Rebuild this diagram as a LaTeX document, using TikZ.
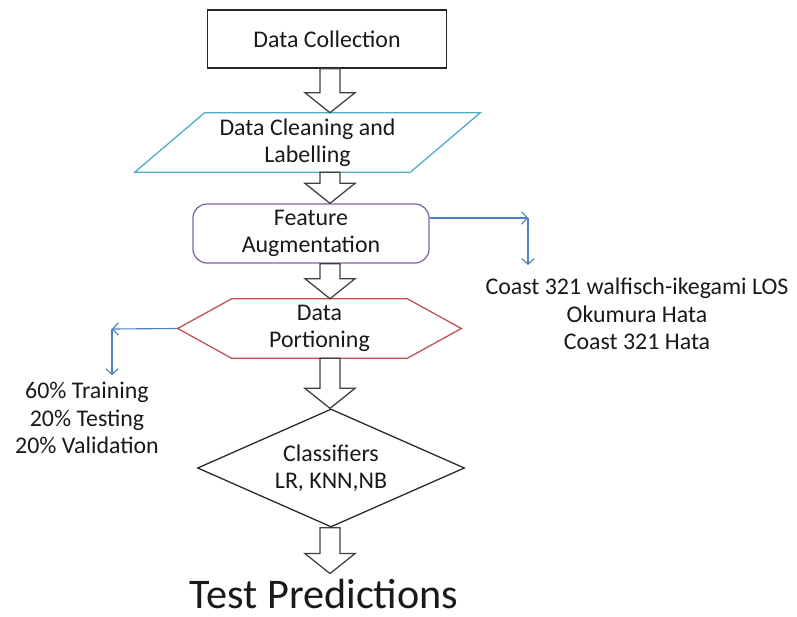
\documentclass[tikz,border=0pt]{standalone}
\usepackage{fontspec}
\setmainfont{Carlito}
\usetikzlibrary{shapes.geometric,calc,arrows.meta}

\definecolor{sideblue}{RGB}{79,129,189}
\definecolor{cleancyan}{RGB}{75,172,198}
\definecolor{featpurple}{RGB}{128,100,162}
\definecolor{portred}{RGB}{192,80,77}

\tikzset{
  every node/.style={font=\fontsize{17}{19.5}\selectfont, text=black!90, align=center},
  blockarr/.style={draw=black!75, fill=white, line width=0.9pt},
  sidearr/.style={draw=sideblue, line width=0.8pt, -{Straight Barb[length=4pt,width=9pt]}},
  txtbox/.style={inner sep=0pt, minimum height=1.475cm}
}

% block arrow from the bottom of #1 to the top of #2, along x of (axis)
\newcommand{\bigarrow}[2]{%
  \path (#1.south -| axis) coordinate (s) (#2.north -| axis) coordinate (t);
  \draw[blockarr] ($(s)+(-10,0)$) -- ($(t)+(-10,20)$) -- ($(t)+(-25,20)$) -- (t)
    -- ($(t)+(25,20)$) -- ($(t)+(10,20)$) -- ($(s)+(10,0)$) -- cycle;
}

\begin{document}
\begin{tikzpicture}[x=0.025cm,y=0.025cm]
  \useasboundingbox (0,0) rectangle (797,-617);
  \coordinate (axis) at (330,0);

  \node[draw=black!85, line width=1pt, minimum width=5.975cm, minimum height=1.45cm] (collect) at (327,-39) {Data Collection};

  \node[txtbox, minimum width=6.875cm] (clean) at (307.5,-142.5) {Data Cleaning and\\Labelling};
  \draw[cleancyan, line width=0.9pt] ($(clean.north west)+(35,0)$) -- ($(clean.north east)+(35,0)$)
    -- ($(clean.south east)+(-35,0)$) -- ($(clean.south west)+(-35,0)$) -- cycle;

  \node[draw=featpurple, line width=0.9pt, rounded corners=10pt, minimum width=5.9cm, minimum height=1.475cm] (feat) at (311,-233.5) {Feature\\Augmentation};

  \node[txtbox, minimum width=4.375cm] (portion) at (319.5,-328.5) {Data\\Portioning};
  \draw[portred, line width=0.9pt] (portion.north west) -- (portion.north east)
    -- ($(portion.east)+(54,0)$) -- (portion.south east) -- (portion.south west)
    -- ($(portion.west)+(-54,0)$) coordinate (pw) -- cycle;

  \node[draw=black!85, line width=0.9pt, diamond, aspect=2.26, inner sep=0pt, minimum width=6.675cm, minimum height=2.95cm] (classify) at (331,-468) {Classifiers\\LR, KNN,NB};

  \node[inner sep=0pt, outer ysep=4pt, font=\fontsize{30}{34}\selectfont] (pred) at (324,-594) {Test Predictions};

  \bigarrow{collect}{clean}
  \bigarrow{clean}{feat}
  \bigarrow{feat}{portion}
  \bigarrow{portion}{classify}
  \bigarrow{classify}{pred}

  \node[inner sep=0pt, anchor=north] (models) at (637,-278) {Coast 321 walfisch-ikegami LOS\\Okumura Hata\\Coast 321 Hata};
  \coordinate (rbend) at (528,-218);
  \draw[sidearr] ($(feat.east)+(0,15.5)$) -- (rbend);
  \draw[sidearr] (rbend) -- ($(rbend |- models.north)+(0,13)$);

  \node[inner sep=0pt, anchor=north] (split) at (87,-382) {60\% Training\\20\% Testing\\20\% Validation};
  \coordinate (lbend) at (112,-329);
  \draw[sidearr] (pw) -- (lbend);
  \draw[sidearr] (lbend) -- ($(lbend |- split.north)+(0,7)$);
\end{tikzpicture}
\end{document}
